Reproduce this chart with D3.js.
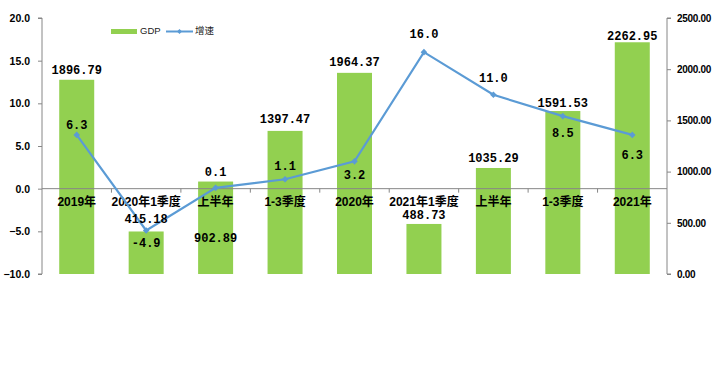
<!DOCTYPE html>
<html><head><meta charset="utf-8">
<script src="https://cdn.jsdelivr.net/npm/d3@7"></script>
<style>body{margin:0;background:#fff}svg{display:block}</style>
</head><body><svg id="c" width="721" height="383"></svg>
<script>
const categories = ["2019年","2020年1季度","上半年","1-3季度","2020年","2021年1季度","上半年","1-3季度","2021年"];
const gdp = [1896.79, 415.18, 902.89, 1397.47, 1964.37, 488.73, 1035.29, 1591.53, 2262.95];
const growth = [6.3, -4.9, 0.1, 1.1, 3.2, 16.0, 11.0, 8.5, 6.3];
const leftTicks = [-10, -5, 0, 5, 10, 15, 20];
const rightTicks = [0, 500, 1000, 1500, 2000, 2500];
const seriesNames = ["GDP", "增速"];

// label layout (vertical nudges in px, relative to mark)
const gdpLabelDy = [-10, -13, 56, -12, -11, -9, -10, -8, -6];
const growthLabelDy = [-10, 12, -16, -13, 13, -18, -17, 17, 20];

const svg = d3.select("#c");
const L = 42, R = 667, T = 18, B = 274;
const x = d3.scaleBand().domain(d3.range(categories.length)).range([L, R]).paddingInner(0.5).paddingOuter(0.25);
const xb = d3.scaleBand().domain(d3.range(categories.length)).range([L, R]);
const yL = d3.scaleLinear().domain([-10, 20]).range([B, T]);
const yR = d3.scaleLinear().domain([0, 2500]).range([B, T]);
const green = "#92D050", blue = "#5B9BD5", axisCol = "#868686";
const numFont = "'Liberation Mono','Noto Sans CJK SC',monospace";

// bars
svg.selectAll("rect.bar").data(gdp).enter().append("rect")
  .attr("x", (d,i) => xb(i) + xb.bandwidth()/2 - 17.5)
  .attr("width", 35)
  .attr("y", d => yR(d)).attr("height", d => yR(0) - yR(d))
  .attr("fill", green);

// left axis
const gL = svg.append("g").attr("transform", `translate(${L},0)`)
  .call(d3.axisLeft(yL).tickValues(leftTicks).tickSize(4).tickFormat(d3.format(".1f")));
gL.select(".domain").attr("stroke", axisCol).attr("d", `M-4,${yL(20)}H0V${yL(-10)}H-4`);
gL.selectAll(".tick line").attr("stroke", axisCol);
gL.selectAll(".tick text").attr("font-family", "'Liberation Sans',Arial,sans-serif")
  .attr("font-size", 10.5).attr("font-weight", "bold").attr("fill", "#000").attr("x", -12);

// right axis
const gR = svg.append("g").attr("transform", `translate(${R},0)`)
  .call(d3.axisRight(yR).tickValues(rightTicks).tickSize(4).tickFormat(d3.format(".2f")));
gR.select(".domain").attr("stroke", axisCol).attr("d", `M4,${yR(2500)}H0V${yR(0)}H4`);
gR.selectAll(".tick line").attr("stroke", axisCol);
gR.selectAll(".tick text").attr("font-family", "'Liberation Sans',Arial,sans-serif")
  .attr("font-size", 10).attr("font-weight", "bold").attr("fill", "#000").attr("x", 10)
  .attr("letter-spacing", "-0.3");

// zero line / category axis
const gX = svg.append("g").attr("transform", `translate(0,${yL(0)})`)
  .call(d3.axisBottom(xb).tickSize(0).tickFormat(i => categories[i]));
gX.select(".domain").attr("stroke", axisCol).attr("d", `M${L},0H${R}`);
gX.selectAll(".tick text").attr("font-family", "'Liberation Sans','Noto Sans CJK SC',sans-serif")
  .attr("font-size", 12).attr("font-weight", "bold").attr("fill", "#000").attr("dy", "0.32em").attr("y", 14);
gX.selectAll("line.sep").data(d3.range(1, categories.length)).enter().append("line")
  .attr("class","sep").attr("x1", i => xb(i)).attr("x2", i => xb(i))
  .attr("y1", 0).attr("y2", 4).attr("stroke", axisCol);

// line
const cx = i => xb(i) + xb.bandwidth()/2;
svg.append("path").datum(growth)
  .attr("d", d3.line().x((d,i) => cx(i)).y(d => yL(d)))
  .attr("fill", "none").attr("stroke", blue).attr("stroke-width", 2.2);
svg.selectAll("path.mk").data(growth).enter().append("path")
  .attr("d", d3.symbol(d3.symbolDiamond2, 28))
  .attr("transform", (d,i) => `translate(${cx(i)},${yL(d)})`).attr("fill", blue);

// data labels
svg.selectAll("text.gl").data(gdp).enter().append("text")
  .attr("x", (d,i) => cx(i)).attr("y", (d,i) => yR(d) + gdpLabelDy[i])
  .attr("dy", "0.35em").attr("text-anchor", "middle")
  .attr("font-family", numFont).attr("font-size", 12).attr("font-weight", "bold")
  .text(d => d.toFixed(2));
svg.selectAll("text.rl").data(growth).enter().append("text")
  .attr("x", (d,i) => cx(i)).attr("y", (d,i) => yL(d) + growthLabelDy[i])
  .attr("dy", "0.35em").attr("text-anchor", "middle")
  .attr("font-family", numFont).attr("font-size", 12).attr("font-weight", "bold")
  .text(d => d.toFixed(1));

// legend
const lg = svg.append("g").attr("font-family", "'Liberation Sans','Noto Sans CJK SC',sans-serif").attr("font-size", 9.5).attr("fill", "#222");
lg.append("rect").attr("x", 111).attr("y", 29).attr("width", 26).attr("height", 5).attr("fill", green);
lg.append("text").attr("x", 140).attr("y", 31).attr("dy", "0.35em").text(seriesNames[0]);
lg.append("line").attr("x1", 166).attr("x2", 193).attr("y1", 31.5).attr("y2", 31.5).attr("stroke", blue).attr("stroke-width", 2);
lg.append("path").attr("d", d3.symbol(d3.symbolDiamond2, 16)).attr("transform", "translate(179.5,31.5)").attr("fill", blue);
lg.append("text").attr("x", 195).attr("y", 31).attr("dy", "0.35em").text(seriesNames[1]);
</script></body></html>
